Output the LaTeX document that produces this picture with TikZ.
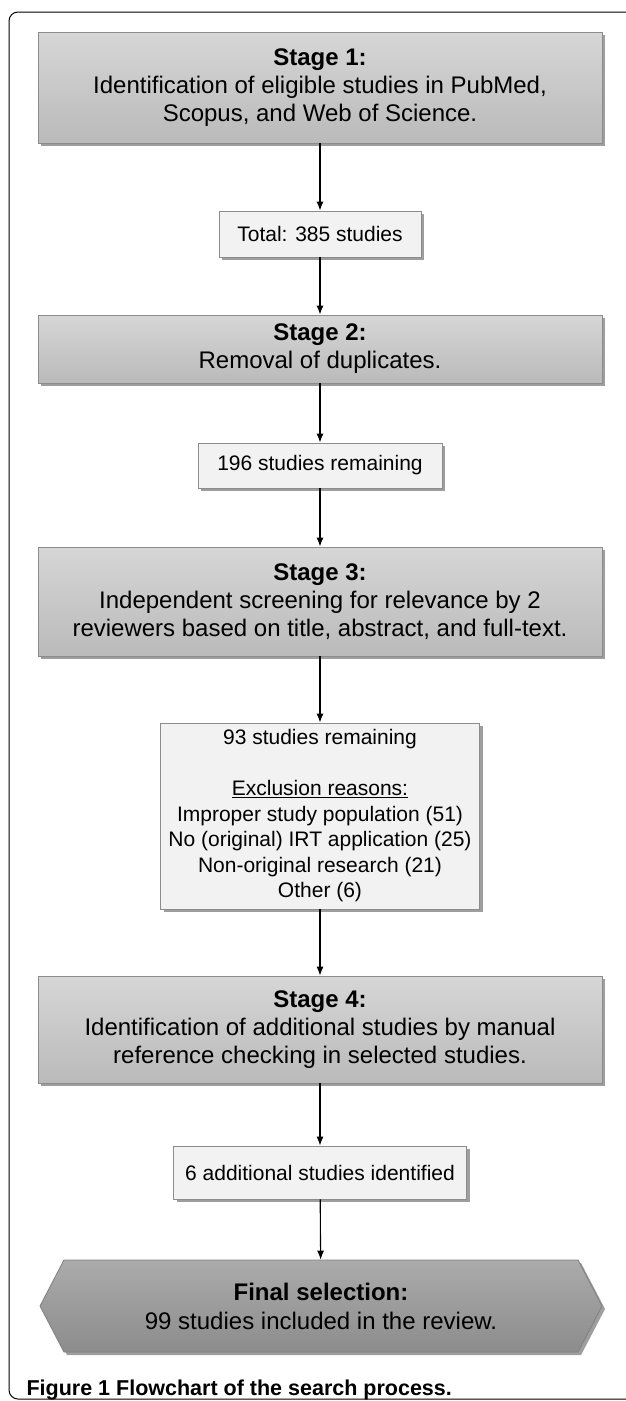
\documentclass[tikz,border=0pt]{standalone}
\usepackage{fontspec}
\setmainfont{Liberation Sans}
\usetikzlibrary{arrows.meta,shadows,shapes.symbols}

\tikzset{
  boxshadow/.style={drop shadow={shadow xshift=3pt,shadow yshift=-3pt,fill=black!38,opacity=1}},
  stagebox/.style={draw=black!45, line width=0.8pt, top color=black!16, bottom color=black!27,
    minimum width=564pt, inner sep=0pt, align=center, boxshadow,
    font=\fontsize{24}{28}\selectfont},
  countbox/.style={draw=black!45, line width=0.8pt, fill=black!5, inner sep=0pt, align=center,
    boxshadow, font=\fontsize{21}{25.5}\selectfont},
  finalbox/.style={draw=black!50, line width=0.8pt, top color=black!33, bottom color=black!45,
    signal, signal to=west and east, signal pointer angle=125,
    minimum width=562pt, minimum height=92pt, inner sep=0pt, align=center, boxshadow,
    font=\fontsize{24}{29}\selectfont}
}

\begin{document}
\begin{tikzpicture}[x=1pt,y=-1pt,->,>={Latex[length=9pt,width=7pt]},line width=1.1pt]
  \useasboundingbox (0,0) rectangle (625,1401);
  \draw[-,line width=1pt,rounded corners=9pt] (640,12) -- (9,12) -- (9,1399) -- (640,1399);

  \node[stagebox, minimum height=111pt] (s1) at (320,87.5)
    {\textbf{Stage 1:}\\Identification of eligible studies in PubMed,\\Scopus, and Web of Science.};
  \node[countbox, minimum width=202pt, minimum height=46pt] (n385) at (320,234) {Total: 385 studies};
  \node[stagebox, minimum height=68pt] (s2) at (320,349)
    {\textbf{Stage 2:}\\Removal of duplicates.};
  \node[countbox, minimum width=244pt, minimum height=45pt] (n196) at (320,465.5) {196 studies remaining};
  \node[stagebox, minimum height=109pt] (s3) at (320,601.5)
    {\textbf{Stage 3:}\\Independent screening for relevance by 2\\reviewers based on title, abstract, and full-text.};
  \node[countbox, minimum width=319pt, minimum height=186pt] (n93) at (320,816)
    {93 studies remaining\\[25.5pt]\underline{Exclusion reasons:}\\Improper study population (51)\\
     No (original) IRT application (25)\\Non-original research (21)\\Other (6)};
  \node[stagebox, minimum height=107pt] (s4) at (320,1029.5)
    {\textbf{Stage 4:}\\Identification of additional studies by manual\\reference checking in selected studies.};
  \node[countbox, minimum width=293pt, minimum height=53pt] (n6) at (320,1172.5) {6 additional studies identified};
  \node[finalbox] (fin) at (321,1306)
    {\textbf{Final selection:}\\99 studies included in the review.};
  \node[anchor=west, inner sep=0pt, font=\bfseries\fontsize{21.5}{24}\selectfont] (cap) at (26,1390)
    {Figure 1 Flowchart of the search process.};

  \draw (s1) -- (n385);
  \draw (n385) -- (s2);
  \draw (s2) -- (n196);
  \draw (n196) -- (s3);
  \draw (s3) -- (n93);
  \draw (n93) -- (s4);
  \draw (s4) -- (n6);
  \draw (n6) -- (fin);
\end{tikzpicture}
\end{document}
